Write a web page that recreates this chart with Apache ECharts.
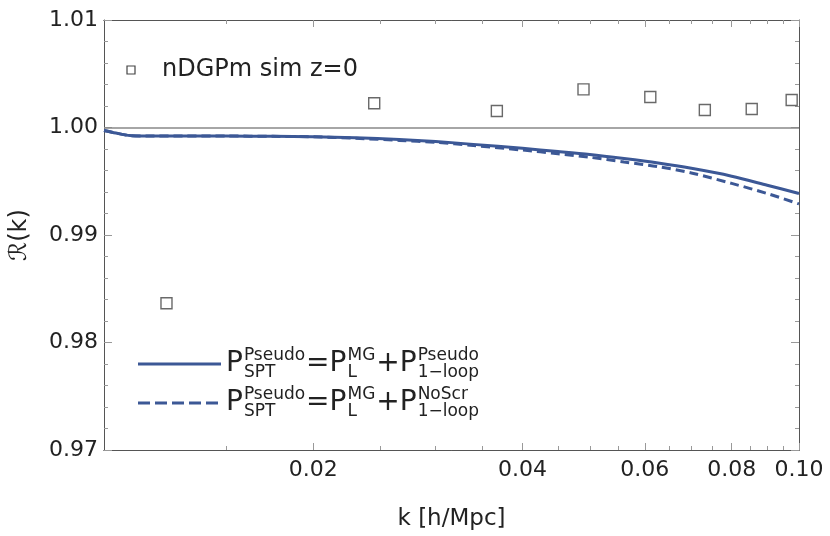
<!DOCTYPE html>
<html>
<head>
<meta charset="utf-8">
<script src="https://cdn.jsdelivr.net/npm/echarts@6/dist/echarts.min.js"></script>
<style>
  html, body { margin: 0; padding: 0; background: #fff; }
  #main { width: 830px; height: 536px; }
</style>
</head>
<body>
<div id="main"></div>
<script>
    // 数据：k 值与两条理论曲线
    var kLine   = [0.0100, 0.0104, 0.0109, 0.0115, 0.0130, 0.0150, 0.0175, 0.0200, 0.0230, 0.0266, 0.0300, 0.0340, 0.0400, 0.0450, 0.0500, 0.0560, 0.0627, 0.0700, 0.0800, 0.0900, 0.1000];
    var rPseudo = [0.99972, 0.99948, 0.99925, 0.99921, 0.99922, 0.99921, 0.99918, 0.99914, 0.99904, 0.99889, 0.99870, 0.99843, 0.99806, 0.99777, 0.99749, 0.99711, 0.99669, 0.99620, 0.99547, 0.99463, 0.99386];
    var rNoScr  = [0.99972, 0.99948, 0.99925, 0.99921, 0.99922, 0.99921, 0.99918, 0.99913, 0.99900, 0.99880, 0.99862, 0.99833, 0.99790, 0.99756, 0.99723, 0.99679, 0.99636, 0.99577, 0.99480, 0.99386, 0.99289];

    // 模拟数据点
    var kSim = [0.01230, 0.02448, 0.03675, 0.04897, 0.06110, 0.07320, 0.08550, 0.09760];
    var rSim = [0.98365, 1.00225, 1.00153, 1.00355, 1.00284, 1.00163, 1.00172, 1.00256];

    // 刻度
    var xMajor = [0.02, 0.04, 0.06, 0.08, 0.1];
    var xMinor = [0.015, 0.025, 0.03, 0.035, 0.045, 0.05, 0.055, 0.065, 0.07, 0.075, 0.085, 0.09, 0.095];
    var yMin = 0.97, yMax = 1.01, yStep = 0.01;

    var FONT = '"DejaVu Sans", sans-serif';
    var lineColor = '#3c5896';
    var frameColor = '#555';
    var tickColor = '#999';

    function pairs(xs, ys) {
        return xs.map(function (x, i) { return [x, ys[i]]; });
    }

    /*x轴：主刻度+次刻度，上下各一套*/
    function xAxisOf(pos, ticks, len, withLabel) {
        return {
            type: 'log', logBase: 10, min: 0.01, max: 0.1,
            position: pos,
            axisLine: { show: true, lineStyle: { color: frameColor, width: 1 } },
            axisTick: { show: true, inside: true, length: len, customValues: ticks, lineStyle: { color: tickColor } },
            axisLabel: withLabel ? {
                show: true, customValues: xMajor, margin: 9,
                fontFamily: FONT, fontSize: 22, color: '#222',
                formatter: function (v) { return (+v).toFixed(2); }
            } : { show: false },
            splitLine: { show: false },
            minorTick: { show: false },
            name: withLabel ? 'k [h/Mpc]' : '',
            nameLocation: 'middle', nameGap: 58,
            nameTextStyle: { fontFamily: FONT, fontSize: 23, color: '#222' }
        };
    }

    function yAxisOf(pos, withLabel) {
        return {
            type: 'value', min: yMin, max: yMax, interval: yStep,
            position: pos,
            axisLine: { show: true, lineStyle: { color: frameColor, width: 1 } },
            axisTick: { show: true, inside: true, length: 8, lineStyle: { color: tickColor } },
            minorTick: { show: true, splitNumber: 5, length: 4, lineStyle: { color: tickColor } },
            axisLabel: withLabel ? {
                show: true, margin: 6, fontFamily: FONT, fontSize: 22, color: '#222',
                formatter: function (v) { return v.toFixed(2); }
            } : { show: false },
            splitLine: { show: false },
            name: withLabel ? '\u211B(k)' : '',
            nameLocation: 'middle', nameRotate: 90, nameGap: 72,
            nameTextStyle: { fontFamily: FONT, fontSize: 24, color: '#222' }
        };
    }

    /*图例公式：上下标堆叠，用 canvas 量宽度*/
    var measureCtx = document.createElement('canvas').getContext('2d');
    function textWidth(str, size) {
        measureCtx.font = size + 'px ' + FONT;
        return measureCtx.measureText(str).width;
    }
    function formula(pieces, x0, cy) {
        var els = [], x = x0, big = 28, small = 17;
        pieces.forEach(function (p) {
            if (p.main) {
                els.push({ type: 'text', x: x, y: cy, style: { text: p.main, font: big + 'px ' + FONT, fill: '#222', verticalAlign: 'middle' } });
                x += textWidth(p.main, big);
            } else {
                els.push({ type: 'text', x: x + 1, y: cy - 8, style: { text: p.sup, font: small + 'px ' + FONT, fill: '#222', verticalAlign: 'middle' } });
                els.push({ type: 'text', x: x + 1, y: cy + 9, style: { text: p.sub, font: small + 'px ' + FONT, fill: '#222', verticalAlign: 'middle' } });
                x += Math.max(textWidth(p.sup, small), textWidth(p.sub, small)) + 2;
            }
        });
        return els;
    }
    var row1 = [{ main: 'P' }, { sup: 'Pseudo', sub: 'SPT' }, { main: '=P' }, { sup: 'MG', sub: 'L' }, { main: '+P' }, { sup: 'Pseudo', sub: '1\u2212loop' }];
    var row2 = [{ main: 'P' }, { sup: 'Pseudo', sub: 'SPT' }, { main: '=P' }, { sup: 'MG', sub: 'L' }, { main: '+P' }, { sup: 'NoScr', sub: '1\u2212loop' }];

    var legendEls = [
        { type: 'rect', shape: { x: 127, y: 66, width: 8, height: 8 }, style: { fill: '#fff', stroke: '#444', lineWidth: 1.2 } },
        { type: 'text', x: 162, y: 70, style: { text: 'nDGPm sim z=0', font: '24px ' + FONT, fill: '#222', verticalAlign: 'middle' } },
        { type: 'line', shape: { x1: 138, y1: 364, x2: 221, y2: 364 }, style: { stroke: lineColor, lineWidth: 3 } },
        { type: 'line', shape: { x1: 138, y1: 403, x2: 221, y2: 403 }, style: { stroke: lineColor, lineWidth: 3, lineDash: [12, 5] } }
    ].concat(formula(row1, 226, 364)).concat(formula(row2, 226, 403));

    var chart = echarts.init(document.getElementById('main'), null, { renderer: 'canvas' });
    chart.setOption({
        animation: false,
        grid: { left: 103, right: 31, top: 20, bottom: 86, containLabel: false },
        xAxis: [
            xAxisOf('bottom', xMajor, 7, true),
            xAxisOf('bottom', xMinor, 4, false),
            xAxisOf('top', xMajor, 7, false),
            xAxisOf('top', xMinor, 4, false)
        ],
        yAxis: [
            yAxisOf('left', true),
            yAxisOf('right', false)
        ],
        graphic: legendEls,
        series: [
            {
                name: 'Pseudo', type: 'line', xAxisIndex: 0, yAxisIndex: 0,
                data: pairs(kLine, rPseudo), smooth: 0.3, showSymbol: false,
                lineStyle: { color: lineColor, width: 3 },
                markLine: {
                    silent: true, symbol: 'none', label: { show: false },
                    lineStyle: { color: '#888', width: 1.5, type: 'solid' },
                    data: [{ yAxis: 1.0 }]
                },
                z: 3
            },
            {
                name: 'NoScr', type: 'line', xAxisIndex: 0, yAxisIndex: 0,
                data: pairs(kLine, rNoScr), smooth: 0.3, showSymbol: false,
                lineStyle: { color: lineColor, width: 3, type: [9, 5] },
                z: 3
            },
            {
                name: 'nDGPm sim z=0', type: 'scatter', xAxisIndex: 0, yAxisIndex: 0,
                data: pairs(kSim, rSim), symbol: 'rect', symbolSize: 11,
                itemStyle: { color: '#fff', borderColor: '#444', borderWidth: 1.4 },
                clip: false, z: 4
            }
        ]
    });
</script>
</body>
</html>
